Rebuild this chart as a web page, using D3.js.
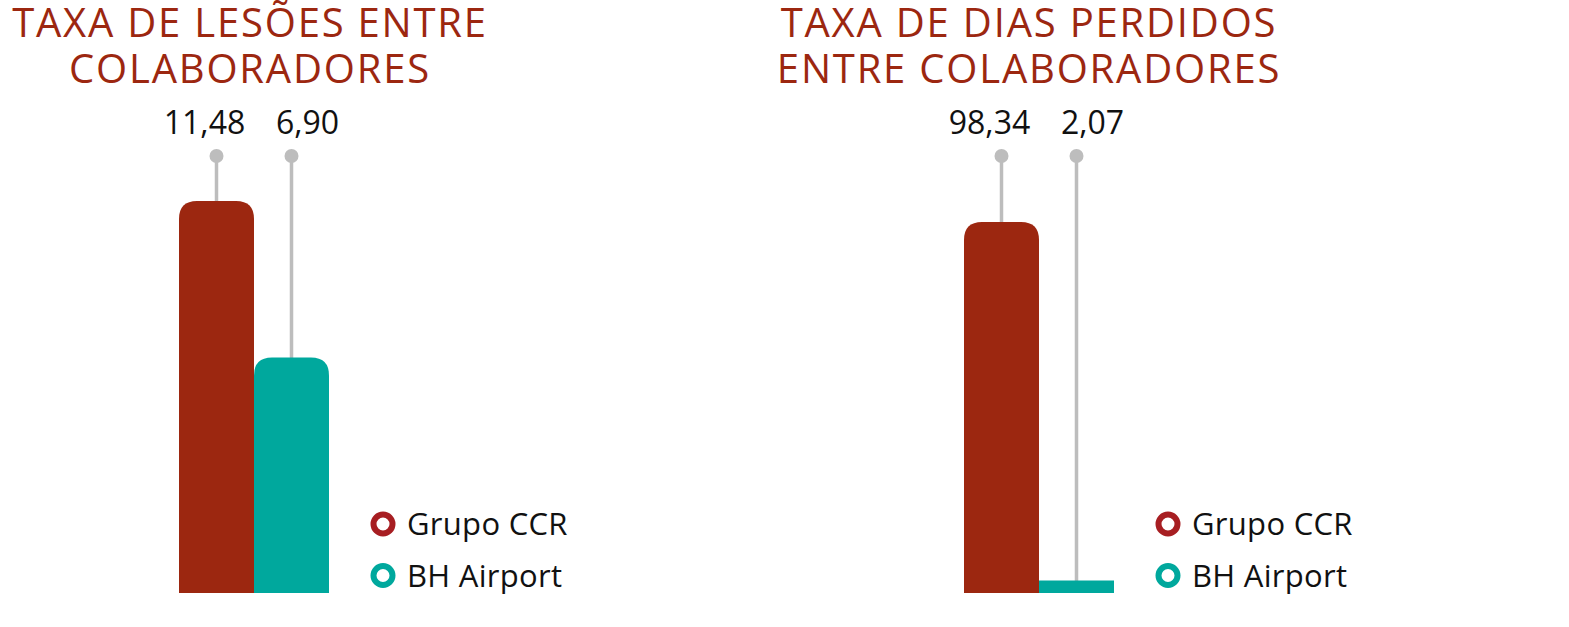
<!DOCTYPE html>
<html>
<head>
<meta charset="utf-8">
<script src="https://cdn.jsdelivr.net/npm/d3@7"></script>
<style>
	body { margin: 0; background: #fff; }
	text { font-family: "Open Sans", "Noto Sans", sans-serif; }
</style>
</head>
<body>
<div id="chart"></div>
<script>
// data
const series = ["Grupo CCR", "BH Airport"];
const titleLesoes = ["TAXA DE LESÕES ENTRE", "COLABORADORES"];
const titleDias = ["TAXA DE DIAS PERDIDOS", "ENTRE COLABORADORES"];
const taxaLesoes = [11.48, 6.90];
const taxaDias = [98.34, 2.07];

const colors = ["#9c2710", "#00a89d"];
const legendColors = ["#a71e22", "#00a89d"];
const titleColor = "#9c2710";
const stemColor = "#bdbdbd";

const width = 1569;
const height = 627;
const barW = 75;
const base = 593;
const dotY = 156;
const radius = 18;

const ptBR = d3.formatLocale({ decimal: ",", thousands: ".", grouping: [3], currency: ["R$", ""] });
const fmt = ptBR.format(".2f");

const svg = d3.select("#chart")
	.append("svg")
	.attr("width", width)
	.attr("height", height);

const panels = [
	{ title: titleLesoes, values: taxaLesoes, x0: 179, yMax: 12.8, titleX: 250, legendX: 383 },
	{ title: titleDias, values: taxaDias, x0: 964, yMax: 115.8, titleX: 1029, legendX: 1168 }
];

// bar with rounded top corners
function barPath(x, y, w, h, r) {
	r = Math.min(r, w / 2, h);
	return "M " + x + " " + (y + h)
		+ " L " + x + " " + (y + r)
		+ " Q " + x + " " + y + " " + (x + r) + " " + y
		+ " L " + (x + w - r) + " " + y
		+ " Q " + (x + w) + " " + y + " " + (x + w) + " " + (y + r)
		+ " L " + (x + w) + " " + (y + h) + " Z";
}

panels.forEach((p) => {
	const g = svg.append("g");

	const x = d3.scaleBand()
		.domain(series)
		.range([p.x0, p.x0 + barW * series.length])
		.padding(0);

	const y = d3.scaleLinear()
		.domain([0, p.yMax])
		.range([base, dotY]);

	const data = series.map((s, i) => ({ name: s, value: p.values[i], i: i }));

	// title, one text per line
	g.selectAll("text.title")
		.data(p.title)
		.enter()
		.append("text")
		.attr("class", "title")
		.attr("x", p.titleX)
		.attr("y", (d, i) => 37 + i * 46)
		.attr("text-anchor", "middle")
		.attr("fill", titleColor)
		.attr("font-size", 40)
		.attr("letter-spacing", 1.8)
		.text((d) => d);

	// stems
	g.selectAll("line.stem")
		.data(data)
		.enter()
		.append("line")
		.attr("class", "stem")
		.attr("x1", (d) => x(d.name) + barW / 2)
		.attr("x2", (d) => x(d.name) + barW / 2)
		.attr("y1", dotY)
		.attr("y2", (d) => y(d.value) + 2)
		.attr("stroke", stemColor)
		.attr("stroke-width", 3.5);

	g.selectAll("circle.dot")
		.data(data)
		.enter()
		.append("circle")
		.attr("class", "dot")
		.attr("cx", (d) => x(d.name) + barW / 2)
		.attr("cy", dotY)
		.attr("r", 7)
		.attr("fill", stemColor);

	// bars
	g.selectAll("path.bar")
		.data(data)
		.enter()
		.append("path")
		.attr("class", "bar")
		.attr("d", (d) => {
			let h = base - y(d.value);
			let r = radius;
			if (h < 13) { h = 12.5; r = 0; }
			return barPath(x(d.name), base - h, barW, h, r);
		})
		.attr("fill", (d) => colors[d.i]);

	// value labels, pushed apart a bit
	g.selectAll("text.value")
		.data(data)
		.enter()
		.append("text")
		.attr("class", "value")
		.attr("x", (d) => x(d.name) + barW / 2 + (d.i == 0 ? -12 : 16))
		.attr("y", 134)
		.attr("text-anchor", "middle")
		.attr("font-size", 32)
		.attr("fill", "#111")
		.text((d) => fmt(d.value));

	// legend
	const legend = g.selectAll("g.legend")
		.data(series)
		.enter()
		.append("g")
		.attr("class", "legend")
		.attr("transform", (d, i) => "translate(" + p.legendX + "," + (524 + i * 51.5) + ")");

	legend.append("circle")
		.attr("r", 9.5)
		.attr("fill", "#fff")
		.attr("stroke", (d, i) => legendColors[i])
		.attr("stroke-width", 6);

	legend.append("text")
		.attr("x", 24)
		.attr("y", 11)
		.attr("font-size", 31)
		.attr("letter-spacing", 0.3)
		.attr("fill", "#111")
		.text((d) => d);
});
</script>
</body>
</html>
